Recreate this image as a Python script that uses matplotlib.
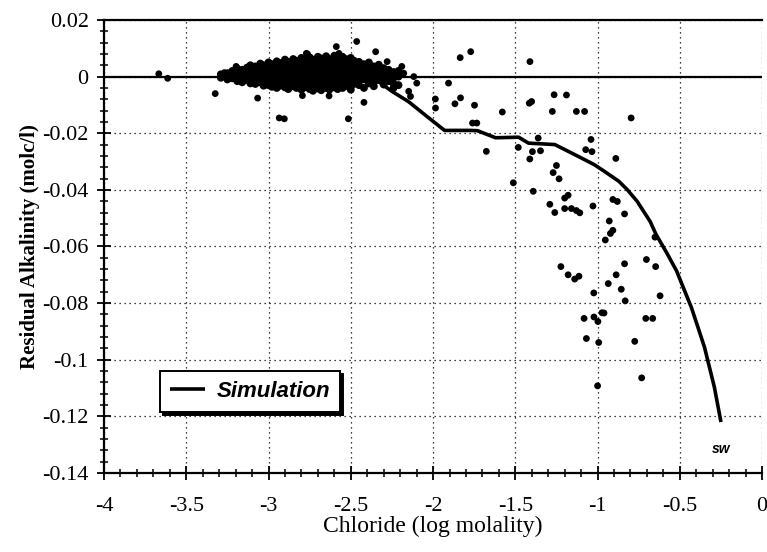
import matplotlib
matplotlib.use("Agg")
import matplotlib.pyplot as plt
from matplotlib.ticker import MultipleLocator

# --- data ---

# simulation curve (log molality, molc/l)
sim_x = [-2.80, -2.60, -2.45, -2.33, -2.25, -2.15, -2.03, -1.93, -1.78, -1.73,
         -1.62, -1.48, -1.42, -1.26, -1.12, -1.02, -0.96, -0.87, -0.82, -0.76,
         -0.68, -0.645, -0.58, -0.52, -0.43, -0.39, -0.35, -0.29, -0.25]
sim_y = [0.0008, 0.0004, -0.0004, -0.0018, -0.0052, -0.0088, -0.0144, -0.0190, -0.0190, -0.0191,
         -0.0216, -0.0214, -0.0235, -0.0240, -0.0281, -0.0311, -0.0334, -0.0370, -0.0399, -0.0440,
         -0.0512, -0.0557, -0.0622, -0.0686, -0.0815, -0.0885, -0.0956, -0.1097, -0.1220]

# dense cloud of samples around zero, one column of y values per x
cloud = [
    (-3.29, [0.0008, -0.0004]),
    (-3.25, [0.0012, 0.0000, -0.0010]),
    (-3.22, [0.0020, 0.0004, -0.0006]),
    (-3.19, [0.0028, 0.0010, -0.0004, -0.0016]),
    (-3.16, [0.0024, 0.0008, -0.0008, -0.0020]),
    (-3.13, [0.0032, 0.0016, 0.0000, -0.0012]),
    (-3.11, [0.0040, 0.0022, 0.0006, -0.0010, -0.0024]),
    (-3.08, [0.0036, 0.0018, 0.0002, -0.0014, -0.0026]),
    (-3.05, [0.0046, 0.0030, 0.0012, -0.0004, -0.0020]),
    (-3.03, [0.0040, 0.0024, 0.0008, -0.0008, -0.0024, -0.0032]),
    (-3.00, [0.0050, 0.0034, 0.0018, 0.0002, -0.0014, -0.0030]),
    (-2.98, [0.0044, 0.0028, 0.0012, -0.0004, -0.0020, -0.0036]),
    (-2.95, [0.0054, 0.0038, 0.0022, 0.0006, -0.0010, -0.0026, -0.0040]),
    (-2.93, [0.0048, 0.0032, 0.0016, 0.0000, -0.0016, -0.0032]),
    (-2.90, [0.0060, 0.0042, 0.0026, 0.0010, -0.0006, -0.0022, -0.0038]),
    (-2.88, [0.0052, 0.0036, 0.0020, 0.0004, -0.0012, -0.0028, -0.0044]),
    (-2.85, [0.0062, 0.0046, 0.0030, 0.0014, -0.0002, -0.0018, -0.0034]),
    (-2.83, [0.0056, 0.0040, 0.0024, 0.0008, -0.0008, -0.0024, -0.0040]),
    (-2.80, [0.0066, 0.0050, 0.0034, 0.0018, 0.0002, -0.0014, -0.0030, -0.0046]),
    (-2.78, [0.0058, 0.0042, 0.0026, 0.0010, -0.0006, -0.0022, -0.0038]),
    (-2.75, [0.0068, 0.0052, 0.0036, 0.0020, 0.0004, -0.0012, -0.0028, -0.0044]),
    (-2.73, [0.0060, 0.0044, 0.0028, 0.0012, -0.0004, -0.0020, -0.0036, -0.0050]),
    (-2.70, [0.0070, 0.0054, 0.0038, 0.0022, 0.0006, -0.0010, -0.0026, -0.0042]),
    (-2.68, [0.0064, 0.0046, 0.0030, 0.0014, -0.0002, -0.0018, -0.0034, -0.0048]),
    (-2.65, [0.0072, 0.0056, 0.0040, 0.0024, 0.0008, -0.0008, -0.0024, -0.0040]),
    (-2.63, [0.0062, 0.0048, 0.0032, 0.0016, 0.0000, -0.0016, -0.0032, -0.0046]),
    (-2.60, [0.0074, 0.0058, 0.0042, 0.0026, 0.0010, -0.0006, -0.0022, -0.0038]),
    (-2.58, [0.0066, 0.0050, 0.0034, 0.0018, 0.0002, -0.0014, -0.0030, -0.0044]),
    (-2.55, [0.0070, 0.0054, 0.0038, 0.0022, 0.0006, -0.0010, -0.0026, -0.0040]),
    (-2.53, [0.0062, 0.0046, 0.0030, 0.0014, -0.0002, -0.0018, -0.0034]),
    (-2.50, [0.0066, 0.0048, 0.0032, 0.0016, 0.0000, -0.0016, -0.0032, -0.0046]),
    (-2.48, [0.0056, 0.0040, 0.0024, 0.0008, -0.0010, -0.0026]),
    (-2.45, [0.0052, 0.0036, 0.0018, 0.0002, -0.0014, -0.0030]),
    (-2.42, [0.0044, 0.0026, 0.0008, -0.0010, -0.0040]),
    (-2.39, [0.0050, 0.0030, 0.0012, -0.0006, -0.0024]),
    (-2.36, [0.0036, 0.0016, -0.0002, -0.0020, -0.0034]),
    (-2.33, [0.0042, 0.0022, 0.0004, -0.0012]),
    (-2.30, [0.0030, 0.0010, -0.0008, -0.0028]),
    (-2.27, [0.0024, 0.0004, -0.0016]),
    (-2.24, [0.0016, -0.0004, -0.0024, -0.0040]),
    (-2.21, [0.0020, 0.0000, -0.0030]),
]

# isolated samples
obs_x = [-3.667, -3.613, -3.324, -3.268, -3.197, -3.066, -2.935, -2.904, -2.794, -2.770,
         -2.763, -2.632, -2.588, -2.572, -2.515, -2.464, -2.420, -2.349, -2.279,
         -2.190, -2.178, -2.117, -2.099, -2.148, -2.137,
         -1.835, -1.771, -1.411, -1.906, -1.986, -1.985, -1.833, -1.867, -1.748, -1.579,
         -1.734, -1.760, -1.264, -1.189, -1.401, -1.415, -1.275, -1.129, -1.079, -0.796,
         -1.361, -1.040, -1.676, -1.482, -1.396, -1.347, -1.412, -1.072, -1.034, -0.889,
         -1.250, -1.270, -1.234, -1.512, -1.391, -1.179, -1.200, -0.907, -0.880, -1.290,
         -1.260, -1.200, -1.159, -1.129, -1.108, -1.028, -0.836, -0.929, -0.907, -0.922,
         -0.953, -0.651, -1.223, -1.179, -1.139, -1.113, -0.836, -0.703, -0.647, -0.887,
         -0.935, -0.856, -0.832, -0.620, -1.023, -0.973, -0.961, -1.022, -1.082, -0.998,
         -0.707, -0.665, -1.068, -0.993, -0.774, -0.732, -1.000]
obs_y = [0.0010, -0.0006, -0.0060, 0.0014, 0.0036, -0.0076, -0.0146, -0.0149, -0.0067, 0.0082,
         0.0080, -0.0068, 0.0106, 0.0082, -0.0149, 0.0124, -0.0091, 0.0088, 0.0053,
         0.0036, 0.0012, 0.0000, -0.0023, -0.0052, -0.0070,
         0.0067, 0.0088, 0.0053, -0.0023, -0.0079, -0.0111, -0.0075, -0.0096, -0.0101, -0.0125,
         -0.0164, -0.0164, -0.0064, -0.0065, -0.0088, -0.0094, -0.0123, -0.0123, -0.0123, -0.0146,
         -0.0217, -0.0222, -0.0264, -0.0250, -0.0265, -0.0262, -0.0291, -0.0258, -0.0265, -0.0289,
         -0.0314, -0.0339, -0.0361, -0.0375, -0.0405, -0.0419, -0.0429, -0.0434, -0.0441, -0.0451,
         -0.0480, -0.0466, -0.0466, -0.0473, -0.0481, -0.0457, -0.0485, -0.0510, -0.0543, -0.0554,
         -0.0577, -0.0567, -0.0671, -0.0700, -0.0715, -0.0705, -0.0661, -0.0646, -0.0671, -0.0700,
         -0.0731, -0.0751, -0.0792, -0.0774, -0.0764, -0.0834, -0.0835, -0.0849, -0.0854, -0.0865,
         -0.0854, -0.0854, -0.0925, -0.0939, -0.0935, -0.1064, -0.1092]

x_ticks = [-4, -3.5, -3, -2.5, -2, -1.5, -1, -0.5, 0]
x_labels = ['-4', '-3.5', '-3', '-2.5', '-2', '-1.5', '-1', '-0.5', '0']
y_ticks = [0.02, 0, -0.02, -0.04, -0.06, -0.08, -0.1, -0.12, -0.14]
y_labels = ['0.02', '0', '-0.02', '-0.04', '-0.06', '-0.08', '-0.1', '-0.12', '-0.14']


def main():
    serif = ['Liberation Serif', 'DejaVu Serif']
    sans = ['Liberation Sans', 'DejaVu Sans']

    fig = plt.figure(figsize=(7.67, 5.52), dpi=100)
    ax = fig.add_axes([0.1356, 0.1431, 0.858, 0.8207])

    # grid (dotted) and the zero line
    ax.grid(True, which='major', color='k', linestyle=(0, (1, 3)), linewidth=0.9)
    ax.set_axisbelow(True)
    ax.axhline(0, color='k', linewidth=1.6, zorder=2)

    # samples
    cx = [x for x, ys in cloud for _ in ys]
    cy = [y for _, ys in cloud for y in ys]
    ax.scatter(cx, cy, s=32, color='k', edgecolors='none', zorder=3)
    ax.scatter(obs_x, obs_y, s=24, color='k', edgecolors='none', zorder=3)

    # simulation
    ax.plot(sim_x, sim_y, color='k', linewidth=2.6, label='Simulation', zorder=4,
            solid_capstyle='butt', solid_joinstyle='round')
    ax.text(-0.25, -0.1315, 'sw', family=sans, fontsize=10, fontweight='bold',
            fontstyle='italic', ha='center', va='center')

    ax.set_xlim(-4, 0)
    ax.set_ylim(-0.14, 0.02)
    ax.set_xticks(x_ticks)
    ax.set_xticklabels(x_labels, family=serif, fontsize=16)
    ax.set_yticks(y_ticks)
    ax.set_yticklabels(y_labels, family=serif, fontsize=16)
    ax.xaxis.set_minor_locator(MultipleLocator(0.1))
    ax.yaxis.set_minor_locator(MultipleLocator(0.004))
    ax.tick_params(which='major', direction='inout', length=10, width=1.3, pad=12)
    ax.tick_params(which='minor', direction='inout', length=6, width=1.1)
    ax.tick_params(axis='y', which='major', pad=6)

    for side in ['left', 'bottom', 'top']:
        ax.spines[side].set_linewidth(1.6)
    ax.spines['right'].set_visible(False)

    ax.set_xlabel('Chloride (log molality)', family=serif, fontsize=17, labelpad=0)
    ax.set_ylabel('Residual Alkalinity (molc/l)', family=serif, fontsize=15,
                  fontweight='bold', labelpad=2)

    leg = ax.legend(loc='lower left', bbox_to_anchor=(0.085, 0.135), borderaxespad=0,
                    prop={'family': sans, 'weight': 'bold', 'style': 'italic', 'size': 16},
                    handlelength=1.6, handletextpad=0.5, borderpad=0.45,
                    fancybox=False, framealpha=1,
                    shadow={'color': 'k', 'alpha': 1, 'ox': 2, 'oy': -2})
    leg.get_frame().set_edgecolor('k')
    leg.get_frame().set_linewidth(1.4)

    fig.savefig('out.png', dpi=100)


if __name__ == "__main__":
    main()
